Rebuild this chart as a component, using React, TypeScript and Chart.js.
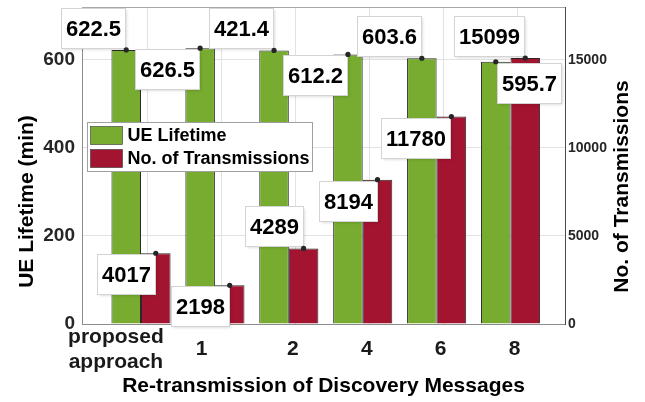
import React, { useEffect, useRef } from 'react';
import { Chart, registerables } from 'chart.js';

Chart.register(...registerables);

// ---- data ----
const categories: (string | string[])[] = [['proposed', 'approach'], '1', '2', '4', '6', '8'];
const seriesNames = ['UE Lifetime', 'No. of Transmissions'];
const lifetimeValues = [622.5, 626.5, 621.4, 612.2, 603.6, 595.7];
const lifetimeTipLabels = ['622.5', '626.5', '421.4', '612.2', '603.6', '595.7'];
const transmissionValues = [4017, 2198, 4289, 8194, 11780, 15099];
const transmissionTipLabels = ['4017', '2198', '4289', '8194', '11780', '15099'];
const leftTicks = [0, 200, 400, 600];
const rightTicks = [0, 5000, 10000, 15000];
const xTitle = 'Re-transmission of Discovery Messages';
const leftTitle = 'UE Lifetime (min)';
const rightTitle = 'No. of Transmissions';

// ---- style ----
const FONT = "'Liberation Sans', Arial, Helvetica, sans-serif";
const GREEN = '#77AC30';
const RED = '#A2142F';
const tipPlacement = [
  ['ul', 'll', 'ul', 'll', 'ul', 'lr'],
  ['ll', 'll', 'ul', 'll', 'll', 'ul'],
];
const tickLabelPad = [11, 7, 1, 1, 1, 1];

const padLabel = (lab: string | string[], n: number) => {
  const sp = ' '.repeat(n);
  return Array.isArray(lab) ? lab.map((l) => l + sp) : lab + sp;
};

const overlayPlugin = {
  id: 'overlay',
  afterDraw(chart: any) {
    const ctx = chart.ctx;
    const ca = chart.chartArea;
    ctx.save();
    // top box line
    ctx.strokeStyle = '#a8a8a8';
    ctx.lineWidth = 1;
    ctx.beginPath();
    ctx.moveTo(ca.left, ca.top + 0.5);
    ctx.lineTo(ca.right, ca.top + 0.5);
    ctx.stroke();

    // axis titles (vertical)
    const mid = (ca.top + ca.bottom) / 2;
    ctx.fillStyle = '#000';
    ctx.font = `bold 21px ${FONT}`;
    ctx.textAlign = 'center';
    ctx.textBaseline = 'middle';
    ctx.save();
    ctx.translate(ca.left - 55, mid + 36);
    ctx.rotate(-Math.PI / 2);
    ctx.fillText(leftTitle, 0, 0);
    ctx.restore();
    ctx.save();
    ctx.translate(ca.right + 57, mid + 21);
    ctx.rotate(-Math.PI / 2);
    ctx.fillText(rightTitle, 0, 0);
    ctx.restore();

    // legend
    const lx = ca.left + 5.5;
    const ly = ca.top + 115.5;
    const lw = 225;
    const lh = 49;
    ctx.fillStyle = '#fff';
    ctx.fillRect(lx, ly, lw, lh);
    ctx.strokeStyle = '#a0a0a0';
    ctx.lineWidth = 1;
    ctx.strokeRect(lx, ly, lw, lh);
    chart.data.datasets.forEach((ds: any, k: number) => {
      const sy = ly + 4 + k * 23;
      ctx.fillStyle = ds.backgroundColor;
      ctx.fillRect(lx + 3, sy, 32, 18);
      ctx.strokeStyle = '#333';
      ctx.lineWidth = 0.6;
      ctx.strokeRect(lx + 3, sy, 32, 18);
      ctx.fillStyle = '#000';
      ctx.font = `bold 18px ${FONT}`;
      ctx.textAlign = 'left';
      ctx.textBaseline = 'middle';
      ctx.fillText(ds.label, lx + 40, sy + 10);
    });

    // data tips
    const tipLabels = [lifetimeTipLabels, transmissionTipLabels];
    chart.data.datasets.forEach((_: any, d: number) => {
      const meta = chart.getDatasetMeta(d);
      meta.data.forEach((bar: any, i: number) => {
        const { x, y } = bar.getProps(['x', 'y'], true);
        const text = tipLabels[d][i];
        ctx.font = `bold 22px ${FONT}`;
        const w = Math.round(ctx.measureText(text).width + 9);
        const h = 40;
        const p = tipPlacement[d][i];
        let bx = x - 1 - w;
        let by = y - 2 - h;
        if (p === 'll') { bx = x - 1 - w; by = y + 1; }
        if (p === 'lr') { bx = x + 1; by = y + 1; }
        if (p === 'ur') { bx = x + 1; by = y - 2 - h; }
        bx = Math.round(bx) + 0.5;
        by = Math.round(by) + 0.5;
        ctx.save();
        ctx.shadowColor = 'rgba(0,0,0,0.18)';
        ctx.shadowBlur = 3;
        ctx.shadowOffsetX = 1;
        ctx.shadowOffsetY = 1;
        ctx.fillStyle = '#fff';
        ctx.fillRect(bx, by, w, h);
        ctx.restore();
        ctx.strokeStyle = '#d4d4d4';
        ctx.lineWidth = 1;
        ctx.strokeRect(bx, by, w, h);
        ctx.fillStyle = '#000';
        ctx.textAlign = 'center';
        ctx.textBaseline = 'middle';
        ctx.fillText(text, bx + w / 2, by + h / 2 + 1);
        ctx.fillStyle = '#262626';
        ctx.beginPath();
        ctx.arc(x, y, 2.6, 0, Math.PI * 2);
        ctx.fill();
      });
    });
    ctx.restore();
  },
};

export default function App() {
  const ref = useRef<HTMLCanvasElement | null>(null);
  useEffect(() => {
    document.body.style.margin = '0';
    const canvas = ref.current;
    if (!canvas) return;
    const toPoints = (vals: number[]) => vals.map((v, i) => ({ x: i + 1, y: v }));
    const catTicks = (s: any) => {
      s.ticks = categories.map((_, i) => ({ value: i + 1 }));
    };
    const fitVertical = (w: number) => (s: any) => {
      s.width = w;
      s.paddingTop = 0;
      s.paddingBottom = 0;
    };
    const chart = new Chart(canvas, {
      type: 'bar',
      data: {
        datasets: [
          {
            label: seriesNames[0],
            data: toPoints(lifetimeValues) as any,
            backgroundColor: GREEN,
            borderColor: '#2a2a2a',
            borderWidth: 1,
            xAxisID: 'x',
            yAxisID: 'y',
            categoryPercentage: 0.8,
            barPercentage: 1,
          },
          {
            label: seriesNames[1],
            data: toPoints(transmissionValues) as any,
            backgroundColor: RED,
            borderColor: '#2a2a2a',
            borderWidth: 1,
            xAxisID: 'x',
            yAxisID: 'y1',
            categoryPercentage: 0.8,
            barPercentage: 1,
          },
        ],
      },
      options: {
        animation: false,
        responsive: true,
        maintainAspectRatio: false,
        layout: { padding: { top: 7, left: 0, right: 0, bottom: 0 } },
        plugins: { legend: { display: false }, tooltip: { enabled: false } },
        scales: {
          x: {
            type: 'linear',
            display: false,
            offset: false,
            grid: { offset: false },
            min: 0.2016,
            max: 6.737,
            afterBuildTicks: catTicks,
          },
          x2: {
            type: 'linear',
            position: 'bottom',
            offset: false,
            min: 0.107,
            max: 6.643,
            afterBuildTicks: catTicks,
            afterFit: (s: any) => {
              s.height = 78;
              s.paddingLeft = 0;
              s.paddingRight = 0;
            },
            grid: { color: '#e2e2e2', drawTicks: false, offset: false },
            border: { color: '#8c8c8c' },
            ticks: {
              autoSkip: false,
              maxRotation: 0,
              padding: 13,
              crossAlign: 'center',
              color: '#1a1a1a',
              font: { family: FONT, size: 21, weight: 'bold' },
              callback: (v: any) => padLabel(categories[Number(v) - 1], tickLabelPad[Number(v) - 1]),
            },
            title: {
              display: true,
              text: xTitle,
              color: '#000',
              font: { family: FONT, size: 21, weight: 'bold' },
              padding: { top: 0, bottom: 3 },
            },
          },
          y: {
            type: 'linear',
            position: 'left',
            min: 0,
            max: 720,
            afterBuildTicks: (s: any) => { s.ticks = leftTicks.map((v) => ({ value: v })); },
            afterFit: fitVertical(82),
            grid: { color: '#e2e2e2', drawTicks: false },
            border: { color: '#8c8c8c' },
            ticks: {
              padding: 7,
              color: '#262626',
              font: { family: FONT, size: 19, weight: 'bold' },
              callback: (v: any) => String(v),
            },
          },
          y1: {
            type: 'linear',
            position: 'right',
            min: 0,
            max: 18000,
            afterBuildTicks: (s: any) => { s.ticks = rightTicks.map((v) => ({ value: v })); },
            afterFit: fitVertical(80),
            grid: { drawOnChartArea: false, drawTicks: false },
            border: { color: '#4a4a4a' },
            ticks: {
              padding: 3,
              color: '#262626',
              font: { family: FONT, size: 14, weight: 'bold' },
              callback: (v: any) => String(v),
            },
          },
        },
      } as any,
      plugins: [overlayPlugin],
    });
    return () => chart.destroy();
  }, []);
  return (
    <div style={{ width: 645, height: 402, position: 'relative' }}>
      <canvas ref={ref} />
    </div>
  );
}
